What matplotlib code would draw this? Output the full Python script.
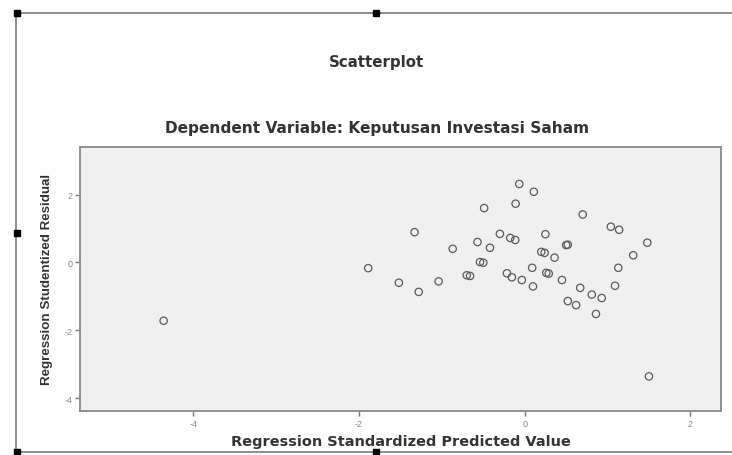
import matplotlib
matplotlib.use("Agg")
import matplotlib.pyplot as plt
from matplotlib.lines import Line2D

plt.rcParams['font.family'] = ['Liberation Sans', 'DejaVu Sans']

# Data (standardized predicted value, studentized residual)
pred = [-4.36, -1.89, -1.52, -1.33, -1.28, -1.04, -0.87, -0.70, -0.66, -0.57,
        -0.54, -0.50, -0.49, -0.42, -0.30, -0.215, -0.175, -0.155, -0.115, -0.11,
        -0.066, -0.035, 0.09, 0.10, 0.11, 0.20, 0.24, 0.25, 0.26, 0.29,
        0.36, 0.45, 0.50, 0.52, 0.52, 0.62, 0.67, 0.70, 0.81, 0.86,
        0.93, 1.04, 1.09, 1.13, 1.14, 1.31, 1.48, 1.50]
resid = [-1.72, -0.17, -0.60, 0.89, -0.87, -0.56, 0.40, -0.38, -0.40, 0.60,
         0.01, -0.01, 1.60, 0.43, 0.84, -0.32, 0.72, -0.44, 0.66, 1.73,
         2.31, -0.52, -0.16, -0.71, 2.08, 0.31, 0.28, 0.83, -0.31, -0.33,
         0.14, -0.52, 0.51, 0.52, -1.14, -1.26, -0.75, 1.41, -0.95, -1.52,
         -1.05, 1.05, -0.69, -0.16, 0.96, 0.21, 0.58, -3.36]

xticks = [-4, -2, 0, 2]
yticks = [-4, -2, 0, 2]

title = "Scatterplot"
subtitle = "Dependent Variable: Keputusan Investasi Saham"
xlabel = "Regression Standardized Predicted Value"
ylabel = "Regression Studentized Residual"

W, H = 732, 456
fig = plt.figure(figsize=(W / 100, H / 100), dpi=100)
fig.patch.set_facecolor("white")

ax = fig.add_axes([80 / W, 1 - 412 / H, (721 - 80) / W, (412 - 148) / H])
ax.set_facecolor("#f0f0f0")
ax.scatter(pred, resid, s=28, facecolors="none", edgecolors="#5a5a5a", linewidths=0.9, zorder=3)

ax.set_xlim(-5.37, 2.37)
ax.set_ylim(-4.38, 3.40)
ax.set_xticks(xticks)
ax.set_yticks(yticks)
ax.set_xticklabels([str(t) for t in xticks])
ax.set_yticklabels([str(t) for t in yticks])
ax.tick_params(axis="both", direction="out", length=3.5, width=1.0, colors="#777777",
               labelsize=6.5, labelcolor="#888888", pad=2)
for sp in ax.spines.values():
    sp.set_color("#8a8a8a")
    sp.set_linewidth(1.3)

renderer = fig.canvas.get_renderer()


def fitted_text(x_px, y_px, s, target_px, family, rotation=0, base=10.0):
    t = fig.text(x_px / W, 1 - y_px / H, s, ha="center", va="center", fontsize=base,
                 fontweight="bold", color="#333333", family=family, rotation=rotation)
    bb = t.get_window_extent(renderer)
    cur = bb.height if rotation else bb.width
    t.set_fontsize(base * target_px / cur)
    return t


fitted_text(377, 63, title, 95, ["DejaVu Sans"])
fitted_text(377, 128, subtitle, 425, ["DejaVu Sans"])
fitted_text(401, 442, xlabel, 338, ["DejaVu Sans"])
fitted_text(47, 279, ylabel, 212, ["Liberation Sans", "DejaVu Sans"], rotation=90)


# outer selection frame with handles
def fl(x0, y0, x1, y1):
    fig.add_artist(Line2D([x0 / W, x1 / W], [1 - y0 / H, 1 - y1 / H],
                          transform=fig.transFigure, color="#8c8c8c", linewidth=1.4))


fl(16, 14, 732, 14)
fl(16, 14, 16, 453)
fl(16, 453, 732, 453)
for (hx, hy) in [(17, 14), (376, 14), (17, 234), (17, 453), (376, 453)]:
    fig.add_artist(Line2D([hx / W], [1 - hy / H], transform=fig.transFigure,
                          marker="s", markersize=4, color="black", linestyle="none"))

fig.savefig("out.png", dpi=100)
